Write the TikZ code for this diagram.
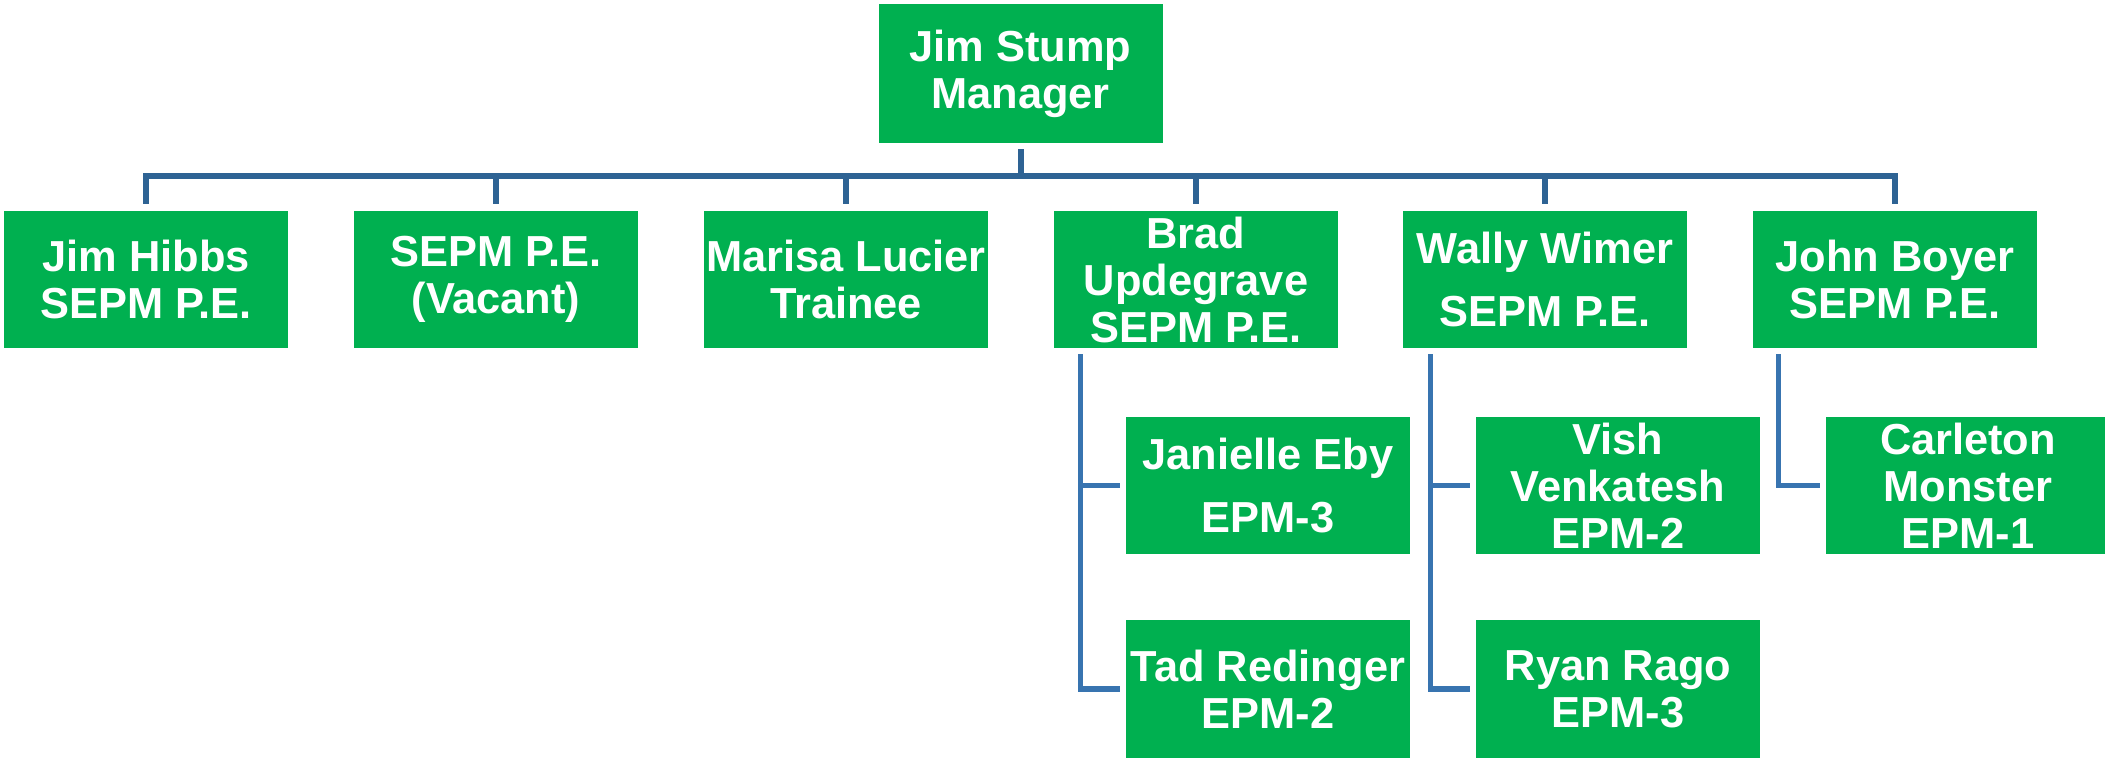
\documentclass[tikz,border=0pt]{standalone}
\usepackage{fontspec}
\setmainfont{Liberation Sans}
\usepackage[svgnames]{xcolor}
\usepackage{tikz}
\usetikzlibrary{calc}

\definecolor{OrgGreen}{RGB}{0,176,80}
\definecolor{BusBlue}{RGB}{46,99,148}
\definecolor{BranchBlue}{RGB}{56,116,176}

\tikzset{
    person/.style={fill=OrgGreen, text=white, inner sep=0pt, align=center,
        minimum width=142pt, minimum height=68.5pt,
        font=\fontsize{21.7}{23.5}\selectfont\bfseries},
    bus/.style={line width=3pt, color=BusBlue},
    branch/.style={line width=2.8pt, color=BranchBlue, shorten >=3pt},
}

\begin{document}
\begin{tikzpicture}[x=0.5pt, y=-0.5pt]
        \useasboundingbox (0,0) rectangle (2105,758);

            % Manager
            \node (stump) at (1020.5,73.5) [person, minimum height=69.5pt] {Jim Stump\\Manager};

            % Direct reports
            \foreach \x/\name/\txt in {
                146/hibbs/{Jim Hibbs\\SEPM P.E.},
                496/vacant/{SEPM P.E.\\(Vacant)},
                846/lucier/{Marisa Lucier\\Trainee},
                1196/updegrave/{Brad\\Updegrave\\SEPM P.E.},
                1545/wimer/{Wally Wimer\\[8pt]SEPM P.E.},
                1895/boyer/{John Boyer\\SEPM P.E.}}
                \node (\name) at (\x,279.5) [person] {\txt};

            % Second level
            \node (eby)       at (1268,485.5) [person] {Janielle Eby\\[8pt]EPM-3};
            \node (redinger)  at (1268,689)   [person] {Tad Redinger\\EPM-2};
            \node (venkatesh) at (1618,485.5) [person] {Vish\\Venkatesh\\EPM-2};
            \node (rago)      at (1618,689)   [person] {Ryan Rago\\EPM-3};
            \node (monster)   at (1968,485.5) [person] {Carleton\\Monster\\EPM-1};

            % Main bus
            \coordinate (busline) at (0,176);
            \draw [bus, shorten <=3pt] (stump.south) -- (stump.south |- busline);
            \draw [bus, shorten <=3.5pt, shorten >=3.5pt]
                (hibbs.north) -- (hibbs.north |- busline) -- (boyer.north |- busline) -- (boyer.north);
            \foreach \name in {vacant, lucier, updegrave, wimer}
                \draw [bus, shorten >=3.5pt] (\name.north |- busline) -- (\name.north);

            % Branches
            \coordinate (updegravefoot) at ($(updegrave.south west)+(27,6)$);
            \coordinate (wimerfoot)     at ($(wimer.south west)+(28,6)$);
            \coordinate (boyerfoot)     at ($(boyer.south west)+(26,6)$);
            \draw [branch] (updegravefoot) |- (eby.west);
            \draw [branch] (updegravefoot) |- (redinger.west);
            \draw [branch] (wimerfoot) |- (venkatesh.west);
            \draw [branch] (wimerfoot) |- (rago.west);
            \draw [branch] (boyerfoot) |- (monster.west);
        \end{tikzpicture}
\end{document}
